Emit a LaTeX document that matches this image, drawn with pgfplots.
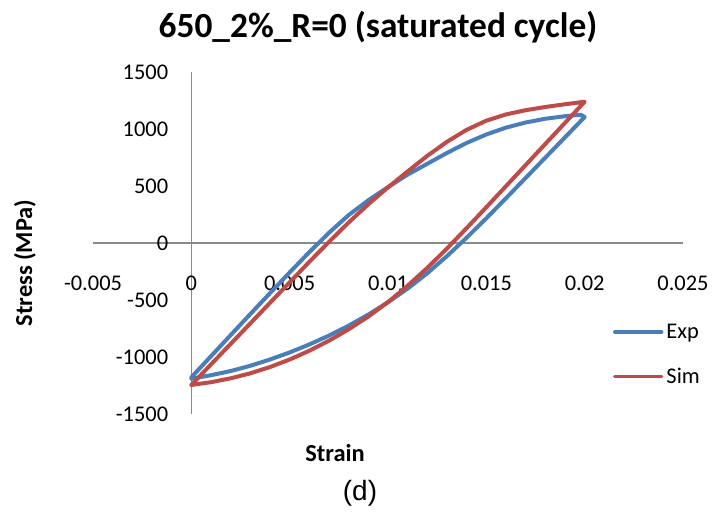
\documentclass[border=0pt]{standalone}
\usepackage{pgfplots}
\pgfplotsset{compat=1.18}
\usepackage{fontspec}
\setmainfont{Carlito}
\newfontfamily\arialf{Liberation Sans}
\definecolor{expblue}{HTML}{4A7EBB}
\definecolor{simred}{HTML}{BE4B48}
\definecolor{axgray}{HTML}{8A8A8A}
\begin{document}
\begin{tikzpicture}
\useasboundingbox (0bp,0bp) rectangle (714bp,514bp);
\begin{axis}[
  scale only axis, width=590bp, height=342bp,
  anchor=south west, at={(93bp,100bp)},
  xmin=-0.005, xmax=0.025, ymin=-1500, ymax=1500,
  axis lines=middle,
  axis line style={draw=axgray, line width=1.3bp, -},
  hide obscured x ticks=false, hide obscured y ticks=false,
  scaled x ticks=false, scaled y ticks=false,
  xtick={-0.005,0,0.005,0.01,0.015,0.02,0.025},
  xticklabels={-0.005,0,0.005,0.01,0.015,0.02,0.025},
  ytick={-1500,-1000,-500,0,500,1000,1500},
  yticklabels={-1500,-1000,-500,0,500,1000,1500},
  major tick length=0pt,
  tick style={draw=none},
  ticklabel style={font=\fontsize{22.5}{26}\selectfont, text=black},
  xticklabel style={anchor=center, yshift=-40bp},
  yticklabel style={anchor=east, inner sep=0pt, xshift=-23bp},
  legend style={draw=none, fill=none, at={(axis description cs:0.881,0.174)}, anchor=west,
    font=\fontsize{22.5}{26}\selectfont, row sep=22bp, inner sep=0pt, nodes={inner sep=3bp}},
  legend cell align=left,
  legend image code/.code={\draw[#1, line width=3.5bp] (0bp,0bp) -- (47bp,0bp);},
  clip=false,
]
\addplot[expblue, line width=4bp, line join=round, line cap=round] coordinates {
(0,-1178) (0.001,-993) (0.002,-808) (0.003,-623) (0.004,-440) (0.005,-258) (0.006,-80) (0.007,90) (0.008,245) (0.009,375) (0.010,490) (0.011,600) (0.012,695) (0.013,790) (0.014,878) (0.015,952) (0.016,1012) (0.017,1057) (0.018,1090) (0.019,1112) (0.0198,1125)
(0.0200,1105) (0.019,927) (0.018,749) (0.017,571) (0.016,393) (0.015,217) (0.014,47) (0.013,-115) (0.012,-265) (0.011,-400) (0.010,-520) (0.009,-628) (0.008,-725) (0.007,-812) (0.006,-890) (0.005,-960) (0.004,-1022) (0.003,-1077) (0.002,-1123) (0.001,-1160) (0,-1190)
};
\addlegendentry{Exp}
\addplot[simred, line width=4bp, line join=round, line cap=round] coordinates {
(0,-1245) (0.001,-1065) (0.002,-885) (0.003,-705) (0.004,-525) (0.005,-345) (0.006,-165) (0.007,10) (0.008,180) (0.009,340) (0.010,488) (0.011,628) (0.012,765) (0.013,888) (0.014,993) (0.015,1073) (0.016,1128) (0.017,1165) (0.018,1193) (0.019,1217) (0.020,1239)
(0.019,1054) (0.018,869) (0.017,684) (0.016,499) (0.015,314) (0.014,131) (0.013,-48) (0.012,-218) (0.011,-375) (0.010,-518) (0.009,-645) (0.008,-757) (0.007,-857) (0.006,-945) (0.005,-1022) (0.004,-1088) (0.003,-1143) (0.002,-1187) (0.001,-1221) (0,-1245)
};
\addlegendentry{Sim}
\end{axis}
\node[font=\fontsize{35.5}{40}\selectfont\bfseries] at (378bp,487bp) {650\_2\%\_R=0 (saturated cycle)};
\node[font=\fontsize{24.5}{28}\selectfont\bfseries, rotate=90] at (25bp,251bp) {Stress (MPa)};
\node[font=\fontsize{24.5}{28}\selectfont\bfseries] at (335bp,61bp) {Strain};
\node[font=\fontsize{28}{32}\selectfont\arialf] at (360bp,21bp) {(d)};
\end{tikzpicture}
\end{document}
